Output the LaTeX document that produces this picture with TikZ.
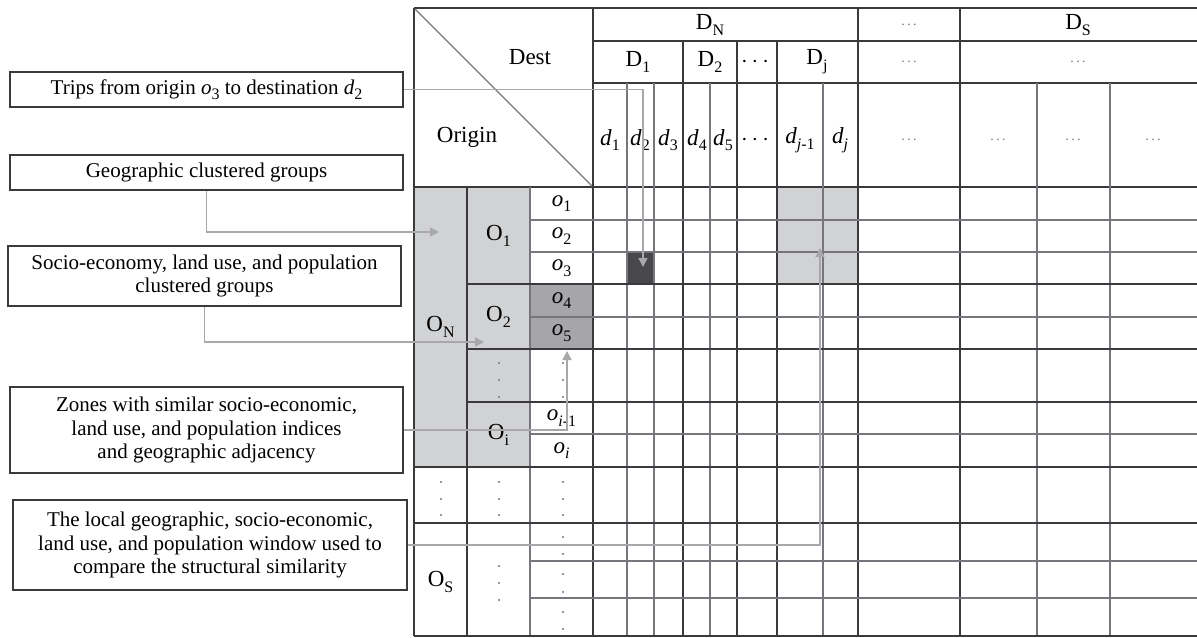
\documentclass[tikz,border=0pt]{standalone}
\usepackage{amsmath}
\usepackage{fontspec}
\setmainfont{Liberation Serif}
\usetikzlibrary{arrows.meta}
\usetikzlibrary{positioning}
\usetikzlibrary{calc}

\definecolor{zonegray}{RGB}{209,210,212}
\definecolor{groupgray}{RGB}{166,166,170}
\definecolor{tripgray}{RGB}{72,72,76}
\definecolor{linkgray}{RGB}{168,168,170}
\definecolor{gridthick}{RGB}{58,58,60}
\definecolor{gridthin}{RGB}{118,118,124}

\newcommand{\lowsub}[1]{\raisebox{-0.55ex}{\footnotesize #1}}
\newcommand{\iz}[2]{\textit{#1}\lowsub{#2}}
\newcommand{\uz}[2]{#1\lowsub{#2}}
\newcommand{\gdots}{\textcolor{gridthin}{\scriptsize .\,.\,.}}

\begin{document}
\begin{tikzpicture}[x=0.5pt,y=-0.5pt,
    thickline/.style={gridthick,line width=0.9pt},
    thinline/.style={gridthin,line width=0.65pt},
    link/.style={linkgray,line width=0.75pt,-{Triangle[length=4.5pt,width=4.5pt]}},
    callout/.style={draw=gridthick,line width=0.6pt,fill=white,align=center,inner sep=0pt,
        minimum width=196.5pt,font=\fontsize{10.5}{11.8}\selectfont},
    lbl/.style={font=\fontsize{11.5}{13}\selectfont,inner sep=0pt},
    vdot/.style={fill=gridthin}]
\useasboundingbox (0,0) rectangle (1197,637);

\edef\L{414} 
\edef\A{467} 
\edef\B{530} 
\edef\C{593} 

% shaded cells
\fill[zonegray] (\L,187) rectangle (\B,467);
\fill[groupgray] (\B,284) rectangle (\C,349);
\fill[tripgray] (627,252) rectangle (654,284);
\fill[zonegray] (777,187) rectangle (858,284);

% header
\draw[thickline] (\L,8) -- (1197,8);
\draw[thickline] (\C,41) -- (1197,41);
\draw[thickline] (\C,83) -- (1197,83);
\draw[thickline] (\L,187) -- (1197,187);
\draw[thinline] (\L,8) -- (\C,187);

% columns
\foreach \cx in {\L,\C,858,960}
    \draw[thickline] (\cx,8) -- (\cx,636);
\foreach \cx in {683,737,777}
    \draw[thickline] (\cx,41) -- (\cx,636);
\foreach \cx in {627,654,710,823,1037,1110}
    \draw[thinline] (\cx,83) -- (\cx,636);
\draw[thickline] (\A,187) -- (\A,636);
\draw[thinline] (\B,187) -- (\B,636);

% rows
\foreach \ry/\rx in {284/\A,349/\A,402/\A,467/\L,523/\L,636/\L}
    \draw[thickline] (\rx,\ry) -- (1197,\ry);
\foreach \ry in {220,252,317,434,561,598}
    \draw[thinline] (\B,\ry) -- (1197,\ry);

\node[lbl] (dest) at (530,57) {Dest};
\node[lbl] (origin) at (467,137) {Origin};

\node[lbl] (DN) at (710,25) {\uz{D}{N}};
\node[lbl] (DS) at (1078,25) {\uz{D}{S}};
\node[lbl] (Dgap) at (909,25) {\gdots};
\node[lbl] (D1) at (638,62) {\uz{D}{1}};
\node[lbl] (D2) at (710,62) {\uz{D}{2}};
\node[lbl] (Ddots) at (757,62) {$\cdots$};
\node[lbl] (Dj) at (817,62) {\uz{D}{j}};
\node[lbl] (Dgap2) at (909,62) {\gdots};
\node[lbl] (Dgap3) at (1078,62) {\gdots};

\foreach \n/\cx in {1/610,2/640,3/668,4/697,5/723}
    \node[lbl] (d\n) at (\cx,140) {\iz{d}{\n}};
\node[lbl] (ddots) at (757,140) {$\cdots$};
\node[lbl] (djm) at (800,140) {\iz{d}{\textit{j}-1}};
\node[lbl] (dj) at (840,140) {\iz{d}{\textit{j}}};
\foreach \n/\cx in {a/909,b/998,c/1073,d/1153}
    \node[lbl] (dgap\n) at (\cx,140) {\gdots};

\node[lbl] (ON) at (440.5,327) {\uz{O}{N}};
\node[lbl] (OS) at (440.5,582) {\uz{O}{S}};
\node[lbl] (O1) at (498.5,235.5) {\uz{O}{1}};
\node[lbl] (O2) at (498.5,316.5) {\uz{O}{2}};
\node[lbl] (Oi) at (498.5,434.5) {\uz{O}{i}};

\foreach \n/\ry in {1/203.5,2/236,3/268,4/300.5,5/333}
    \node[lbl] (o\n) at (561.5,\ry) {\iz{o}{\n}};
\node[lbl] (oim) at (561.5,418) {\iz{o}{\textit{i}-1}};
\node[lbl] (oi) at (561.5,450.5) {\iz{o}{\textit{i}}};

% vertical dots
\foreach \ry in {363,380,397} {
    \fill[vdot] (499,\ry) circle (0.55pt);
    \fill[vdot] (563,\ry) circle (0.55pt);
}
\foreach \ry in {482,499,515} {
    \fill[vdot] (441,\ry) circle (0.55pt);
    \fill[vdot] (499,\ry) circle (0.55pt);
    \fill[vdot] (563,\ry) circle (0.55pt);
}
\foreach \ry in {537,554,574,592,612,629}
    \fill[vdot] (563,\ry) circle (0.55pt);
\foreach \ry in {566,583,600}
    \fill[vdot] (499,\ry) circle (0.55pt);

% callouts
\node[callout,minimum height=17.5pt] (trips) at (206.5,89.5)
    {Trips from origin \iz{o}{3} to destination \iz{d}{2}};
\node[callout,minimum height=17.5pt] (geo) at (206.5,172.5)
    {Geographic clustered groups};
\node[callout,minimum height=30pt] (socio) at (204.5,276)
    {Socio-economy, land use, and population\\clustered groups};
\node[callout,minimum height=43pt] (zones) at (206.5,430)
    {Zones with similar socio-economic,\\land use, and population indices\\and geographic adjacency};
\node[callout,minimum height=45pt,minimum width=197pt] (local) at (210,545)
    {The local geographic, socio-economic,\\land use, and population window used to\\compare the structural similarity};

\coordinate (tripcell) at (643,267);
\coordinate (ONcell) at (439,232);
\coordinate (O2cell) at (484,342);
\coordinate (o5cell) at (567,351);
\coordinate (Djcell) at (820,248);

\draw[link] (trips.east) -| (tripcell);
\draw[link] (geo.south) |- (ONcell);
\draw[link] (socio.south) |- (O2cell);
\draw[link] (zones.east) -| (o5cell);
\draw[link] (local.east) -| (Djcell);
\end{tikzpicture}
\end{document}
